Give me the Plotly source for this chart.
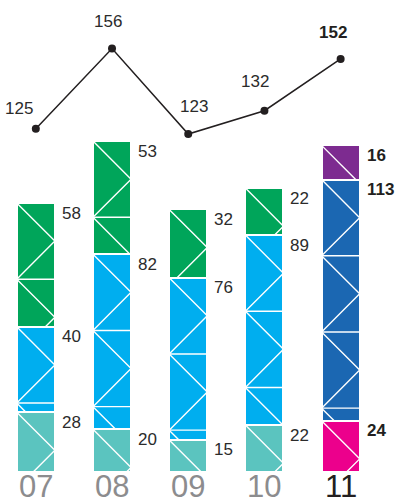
import plotly.graph_objects as go

# ---- data -------------------------------------------------------------
years = ["07", "08", "09", "10", "11"]
totals = [125, 156, 123, 132, 152]          # line series
base = [28, 20, 15, 22, 24]                 # bottom segment of each bar
middle = [40, 82, 76, 89, 113]              # middle segment
top = [58, 53, 32, 22, 16]                  # top segment

base_colors = ["#5BC4BF", "#5BC4BF", "#5BC4BF", "#5BC4BF", "#EC008C"]
middle_colors = ["#00AEEF", "#00AEEF", "#00AEEF", "#00AEEF", "#1B67B2"]
top_colors = ["#00A55A", "#00A55A", "#00A55A", "#00A55A", "#7D2B90"]

# ---- layout constants -------------------------------------------------
W, H = 399, 500
MARGIN_B = 28
PLOT_H = H - MARGIN_B
X_RANGE = [-0.47, 4.766]
Y_RANGE = [0, 221.1]
Y2_RANGE = [-7.49, 174.75]
BAR_W = 0.5
FONT = "Liberation Sans, Arial, Helvetica, sans-serif"
TEXT_DARK = "#2b2b2b"

xs = list(range(len(years)))

fig = go.Figure()

for vals, cols in ((base, base_colors), (middle, middle_colors), (top, top_colors)):
    fig.add_trace(go.Bar(
        x=xs, y=vals, width=BAR_W,
        marker=dict(color=cols, line=dict(color="white", width=2)),
        hoverinfo="skip", showlegend=False,
    ))

# ---- white triangle decoration inside each segment ---------------------
px_per_x = W / (X_RANGE[1] - X_RANGE[0])
px_per_y = PLOT_H / (Y_RANGE[1] - Y_RANGE[0])
step = BAR_W * px_per_x / px_per_y   # drop of one 45-degree diagonal
min_gap = 8 / px_per_y               # keep rules away from segment edges


def zigzag(xc, y0, y1):
    """Zigzag from the segment's top-left corner downwards, with a rule
    across the bar at every left-hand turning point."""
    left, right = xc - BAR_W / 2, xc + BAR_W / 2
    zx, zy = [left], [y1]
    hx, hy = [], []
    y, side = y1, left
    while y > y0 + 1e-9:
        ny = y - step
        nside = right if side == left else left
        if ny < y0:
            frac = (y - y0) / step
            zx.append(side + (nside - side) * frac)
            zy.append(y0)
            break
        zx.append(nside)
        zy.append(ny)
        if nside == left and ny - y0 > min_gap:
            hx += [left, right, None]
            hy += [ny, ny, None]
        y, side = ny, nside
    return zx + [None] + hx, zy + [None] + hy


deco_x, deco_y = [], []
for i in xs:
    bottom = 0
    for seg in (base[i], middle[i], top[i]):
        zx, zy = zigzag(i, bottom, bottom + seg)
        deco_x += zx + [None]
        deco_y += zy + [None]
        bottom += seg

fig.add_trace(go.Scatter(
    x=deco_x, y=deco_y, mode="lines",
    line=dict(color="white", width=1.4),
    hoverinfo="skip", showlegend=False,
))

# ---- totals line -------------------------------------------------------
fig.add_trace(go.Scatter(
    x=xs, y=totals, yaxis="y2", mode="lines+markers",
    line=dict(color="#231F20", width=1.5),
    marker=dict(color="#231F20", size=8),
    hoverinfo="skip", showlegend=False,
))

annotations = []

# segment value labels
for i in xs:
    bold = i == len(xs) - 1
    cum = 0
    for seg in (base[i], middle[i], top[i]):
        cum += seg
        annotations.append(dict(
            x=i + BAR_W / 2, y=cum, xref="x", yref="y",
            text=f"<b>{seg}</b>" if bold else str(seg),
            showarrow=False, xanchor="left", yanchor="middle",
            xshift=5, yshift=-10,
            font=dict(family=FONT, size=17, color="#231F20" if bold else TEXT_DARK),
        ))

# line value labels
line_offsets = [(-17, 20), (-4, 27), (6, 28), (-9, 29), (-8, 26)]
for i, v in enumerate(totals):
    bold = i == len(xs) - 1
    dx, dy = line_offsets[i]
    annotations.append(dict(
        x=i, y=v, xref="x", yref="y2",
        text=f"<b>{v}</b>" if bold else str(v),
        showarrow=False, xanchor="center", yanchor="middle",
        xshift=dx, yshift=dy,
        font=dict(family=FONT, size=17, color="#231F20" if bold else TEXT_DARK),
    ))

# category labels
for i, yr in enumerate(years):
    last = i == len(years) - 1
    annotations.append(dict(
        x=i, y=0, xref="x", yref="paper",
        text=yr, showarrow=False, xanchor="center", yanchor="top",
        yshift=5,
        font=dict(family=FONT, size=31, color="#231F20" if last else "#8C8C8E"),
    ))

fig.update_layout(
    width=W, height=H,
    margin=dict(l=0, r=0, t=0, b=MARGIN_B),
    barmode="stack", bargap=0,
    paper_bgcolor="white", plot_bgcolor="white",
    showlegend=False,
    xaxis=dict(range=X_RANGE, visible=False, fixedrange=True),
    yaxis=dict(range=Y_RANGE, visible=False, fixedrange=True),
    yaxis2=dict(range=Y2_RANGE, overlaying="y", visible=False, fixedrange=True),
    annotations=annotations,
)

fig.write_html("out.html")
